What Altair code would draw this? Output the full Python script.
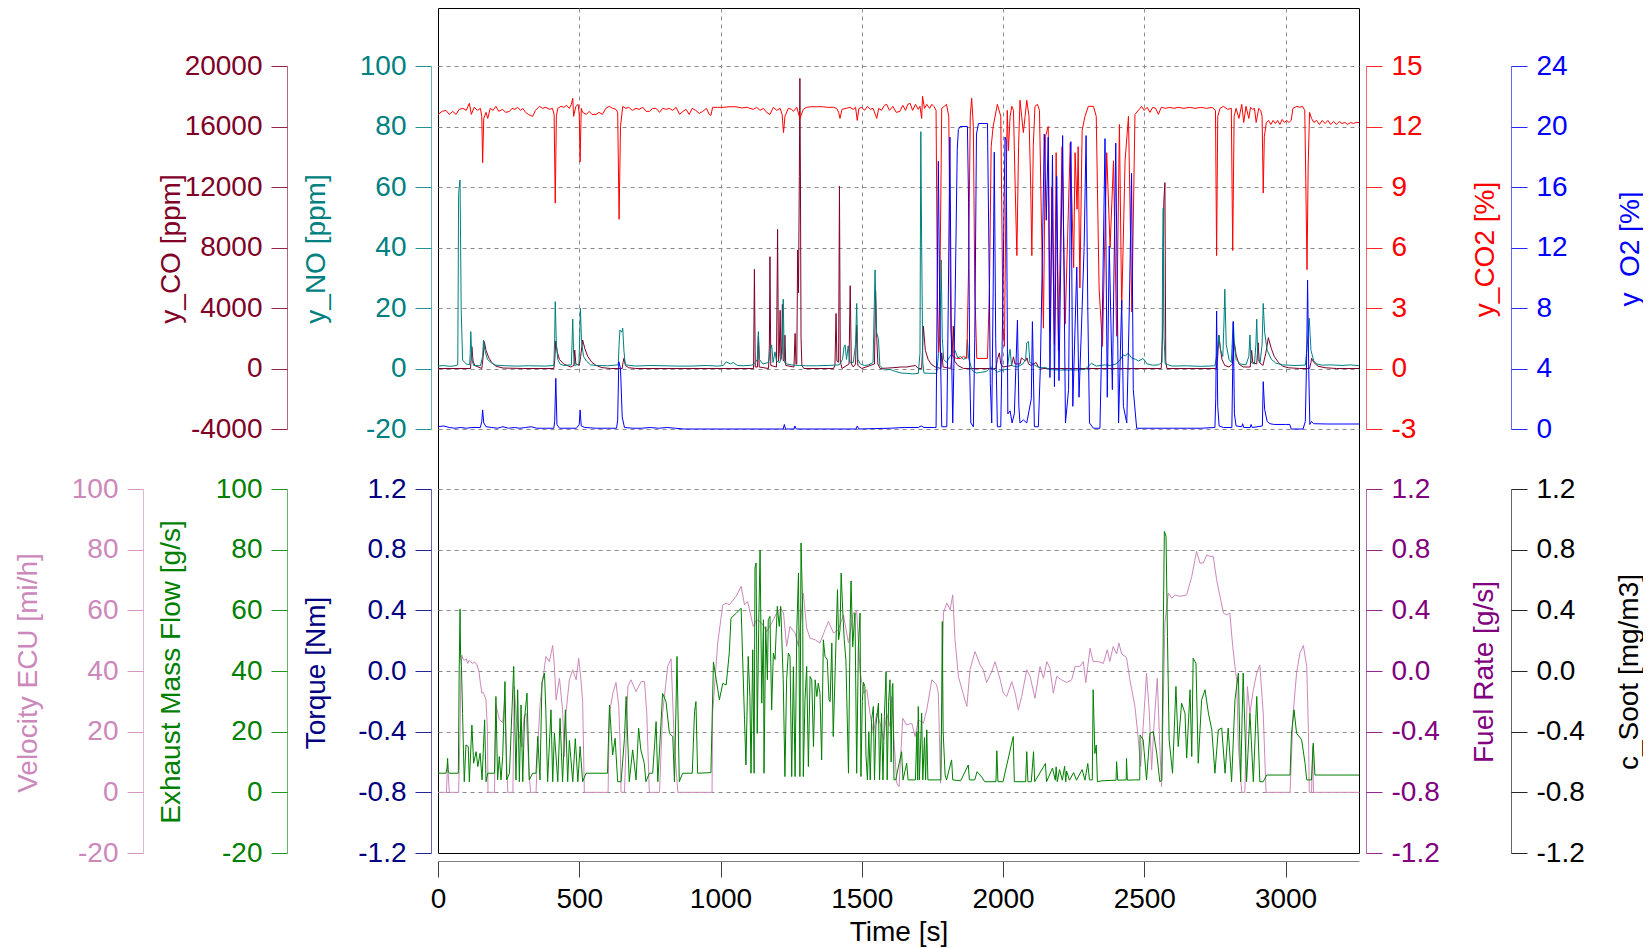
import altair as alt
import pandas as pd

FONT = "Liberation Sans"
GRID_C = "#8c8c8c"

# ---------------- data (time [s], value) ----------------
CO = [(0,0),(115,0),(117,500),(120,1444),(124,500),(130,200),(155,0),(160,800),(164,1775),(170,1200),(180,700),(190,400),(205,150),(230,30),(300,0),(410,0),(413,500),(417,1818),(422,1100),(430,600),(445,300),(470,100),(481,200),(484,1223),(488,300),(500,200),(505,800),(512,1884),(520,1300),(530,800),(545,400),(560,200),(580,60),(610,0),(652,0),(655,400),(658,672),(664,200),(675,50),(700,0),(1117,0),(1120,6555),(1123,100),(1131,100),(1134,2138),(1137,100),(1170,0),(1173,1500),(1175,7394),(1178,200),(1198,100),(1202,9200),(1205,500),(1208,1000),(1211,3850),(1214,600),(1217,1500),(1219,4240),(1222,500),(1226,600),(1228,2200),(1231,200),(1260,100),(1264,2320),(1267,300),(1270,300),(1273,7830),(1276,5000),(1279,12680),(1281,19180),(1283,12000),(1285,2000),(1288,200),(1295,0),(1400,0),(1405,200),(1409,3640),(1412,500),(1418,400),(1421,12060),(1424,500),(1430,0),(1455,300),(1459,5475),(1463,300),(1470,100),(1478,300),(1482,2865),(1486,200),(1500,0),(1545,300),(1549,5140),(1553,2000),(1557,300),(1565,0),(1610,50),(1640,100),(1660,100),(1690,200),(1700,0),(1712,0),(1715,1200),(1718,2800),(1725,1200),(1735,600),(1745,300),(1760,100),(1780,0),(1783,1036),(1788,100),(1815,0),(1820,1000),(1824,2800),(1828,500),(1840,200),(1860,0),(1975,0),(1980,600),(1987,1036),(1992,300),(2000,100),(2030,200),(2037,770),(2042,300),(2060,300),(2065,700),(2072,600),(2080,500),(2085,700),(2090,300),(2100,200),(2117,400),(2125,100),(2140,0),(2560,0),(2566,3000),(2569,11000),(2573,12290),(2576,500),(2580,0),(2755,0),(2760,800),(2764,2200),(2768,1500),(2775,600),(2785,200),(2800,100),(2812,300),(2819,1700),(2825,900),(2835,300),(2850,100),(2875,100),(2880,1200),(2884,400),(2898,300),(2903,1700),(2907,400),(2920,200),(2930,1000),(2939,2040),(2950,1300),(2960,800),(2975,400),(2990,150),(3010,50),(3050,0),(3085,0),(3090,400),(3092,670),(3100,400),(3115,150),(3140,50),(3180,0),(3260,0)]

NO = [(0,0.8),(20,1.0),(40,0.7),(60,0.9),(70,1.2),(73,57.9),(78,62.3),(82,20),(87,2.8),(100,1.5),(112,1.2),(114,5),(116,12.2),(120,3),(126,1.0),(150,0.9),(158,4),(161,9.4),(166,6),(175,3),(190,1.8),(205,1.1),(240,0.9),(280,0.8),(320,0.9),(380,0.8),(410,1.0),(413,10),(415,22.1),(419,8),(424,3),(432,1.5),(445,1.0),(472,1.2),(475,10),(477,16.3),(480,5),(484,1.0),(499,1.5),(502,12),(504,19.9),(508,9),(515,4),(525,2.5),(540,1.2),(560,1.0),(600,0.9),(638,1.2),(641,8),(644,12.7),(650,12),(654,13.3),(658,6),(663,1.2),(700,0.8),(750,1.0),(800,0.9),(850,0.8),(900,0.8),(950,1.0),(990,0.8),(1010,1.0),(1020,2.2),(1035,1.5),(1045,2.0),(1060,1.0),(1080,0.9),(1110,1.1),(1120,1.5),(1130,3),(1134,12.2),(1138,3),(1150,1.5),(1170,2),(1176,6),(1181,7.8),(1186,2),(1193,5.5),(1198,2.5),(1210,2.0),(1218,5),(1222,22.9),(1226,2),(1235,1.5),(1250,1.2),(1280,1.0),(1300,0.9),(1340,0.9),(1380,1.0),(1420,1.2),(1432,3),(1437,7),(1441,7.8),(1446,3),(1452,7.5),(1458,2),(1470,2),(1478,8),(1482,21.5),(1486,3),(1495,1.5),(1510,1.0),(1525,1.2),(1540,2),(1547,32.6),(1552,12),(1559,9.7),(1564,1.0),(1580,-0.5),(1600,-0.3),(1620,-1.0),(1640,-1.5),(1660,-1.6),(1680,-1.8),(1700,-1.6),(1706,5),(1709,78.3),(1712,40),(1716,2),(1720,-1.5),(1740,-1.6),(1765,-1.6),(1772,5),(1777,12),(1781,35.9),(1785,10),(1790,3),(1800,2),(1812,4),(1820,5),(1830,6),(1840,3.5),(1850,4),(1860,3.0),(1870,3.5),(1874,9.6),(1878,3.5),(1890,-0.5),(1905,-1.5),(1920,-1.3),(1940,-1.0),(1960,0.5),(1980,-1.2),(2000,-0.5),(2015,-0.2),(2022,5),(2025,6.3),(2030,1),(2050,0.5),(2070,1.5),(2080,3),(2084,8.5),(2090,8.9),(2095,2),(2110,1.2),(2130,0.2),(2150,0.3),(2170,-0.4),(2200,-0.5),(2250,-0.5),(2290,-0.3),(2313,1.7),(2330,0.8),(2360,1.2),(2380,1.0),(2400,1.5),(2414,2.8),(2425,4.5),(2433,4.2),(2443,5),(2455,3.5),(2470,3.0),(2480,2.5),(2496,3.3),(2510,1.5),(2530,1.1),(2550,1.2),(2563,2),(2565,40),(2567,53),(2570,10),(2574,1.5),(2600,0.8),(2650,0.9),(2700,0.7),(2750,0.9),(2758,5),(2764,11),(2770,6),(2778,4),(2782,15),(2785,26.2),(2790,8),(2800,3),(2808,2),(2812,10),(2815,15.5),(2819,8),(2825,3),(2840,1.5),(2860,1.2),(2870,4),(2874,11.1),(2878,2),(2890,1.5),(2895,8),(2898,16.3),(2902,3),(2910,2),(2917,8),(2921,21.5),(2926,12),(2935,6),(2950,3),(2965,1.8),(2990,1.2),(3030,1.0),(3070,1.1),(3077,8),(3084,16.6),(3090,6),(3100,2.5),(3110,1.5),(3130,1.1),(3160,1.2),(3200,1.0),(3230,1.2),(3260,0.9)]

CO2 = [(0,12.6),(15,12.75),(28,12.8),(40,12.6),(52,12.75),(64,12.6),(75,12.85),(88,12.9),(100,12.8),(111,13.15),(118,12.6),(128,12.95),(140,12.8),(150,12.9),(155,12.5),(158,10.2),(162,12.4),(170,12.7),(176,12.4),(185,12.9),(195,12.8),(205,13.0),(215,12.75),(228,12.85),(240,12.7),(253,12.75),(262,12.9),(272,12.85),(282,12.95),(292,12.8),(300,12.9),(310,12.7),(320,12.6),(335,12.5),(345,12.8),(359,13.0),(370,12.9),(382,12.95),(395,12.85),(405,12.9),(411,12.6),(415,8.2),(419,12.5),(424,12.9),(435,13.0),(445,12.95),(455,13.05),(465,12.9),(472,13.1),(477,13.4),(480,12.5),(488,13.0),(496,13.1),(500,12.6),(503,10.25),(507,12.9),(512,12.7),(525,12.6),(535,12.75),(545,12.6),(559,12.6),(570,12.7),(582,12.6),(594,12.9),(606,13.0),(618,12.9),(630,12.85),(636,12.7),(641,7.4),(646,12.0),(654,13.0),(665,12.9),(675,12.95),(688,12.8),(701,12.9),(712,12.85),(725,12.95),(737,12.75),(748,12.75),(760,12.9),(772,12.9),(784,12.7),(795,12.9),(808,12.85),(819,12.9),(830,12.8),(843,12.95),(855,12.6),(867,12.75),(878,12.85),(889,12.6),(900,12.9),(912,12.8),(925,12.65),(937,12.75),(950,12.9),(960,12.6),(966,12.55),(972,12.95),(990,12.95),(1010,12.95),(1030,12.98),(1055,12.98),(1075,12.92),(1095,12.95),(1104,12.9),(1116,12.85),(1128,12.95),(1140,12.8),(1152,12.9),(1163,12.7),(1175,12.6),(1187,12.95),(1199,12.8),(1211,12.9),(1218,12.6),(1223,11.7),(1228,12.5),(1240,12.9),(1252,12.85),(1258,12.75),(1270,12.95),(1281,12.4),(1293,12.85),(1305,12.95),(1320,12.98),(1340,12.98),(1360,12.98),(1380,12.95),(1400,12.95),(1411,12.9),(1418,12.7),(1423,12.4),(1430,12.85),(1445,12.9),(1458,12.95),(1470,12.85),(1478,12.95),(1484,12.3),(1490,12.9),(1500,12.95),(1510,12.8),(1520,13.0),(1530,12.85),(1540,12.9),(1553,12.4),(1560,12.9),(1570,12.8),(1580,13.05),(1588,13.1),(1598,12.8),(1610,13.0),(1622,12.7),(1635,12.75),(1645,13.05),(1655,12.8),(1663,13.1),(1671,13.15),(1680,12.8),(1690,13.1),(1700,12.85),(1706,13.0),(1712,12.4),(1715,13.5),(1722,12.9),(1730,13.1),(1740,12.9),(1748,13.1),(1755,13.0),
       (1763,12.8),(1768,3),(1772,0.8),(1778,6),(1783,12.9),(1792,13.0),(1800,13.1),(1808,12.5),(1815,2),(1822,0.6),(1835,0.5),(1850,0.5),(1860,0.6),(1872,0.5),(1878,5),(1884,12.5),(1889,13.4),(1895,12.0),(1900,4),(1907,0.5),(1945,0.5),(1952,4),(1958,11),(1965,12.0),(1980,13.1),(1992,12.5),(2000,2),(2005,1.1),(2010,8),(2015,12.8),(2019,10.8),(2025,12.5),(2031,13.0),(2037,12.8),(2043,9),(2049,5.6),(2055,11),(2060,13.3),(2066,12.5),(2072,11.7),(2078,12.5),(2084,13.3),(2092,12.5),(2098,9),(2102,5.6),(2107,11),(2113,13.0),(2122,13.1),(2129,12.8),(2135,8),(2143,2.0),(2150,11.5),(2160,12.0),(2167,1.8),(2173,9),(2182,1.2),(2188,10.7),(2196,0.9),(2209,11.0),(2220,2.2),(2238,11.2),(2250,5),(2255,10.7),(2262,7.9),(2266,11),(2272,4.0),(2280,11.8),(2290,12.5),(2302,13.0),(2320,13.0),(2330,12.5),(2340,4),(2352,1.1),(2367,10.7),(2379,6.0),(2391,10.3),(2402,1.6),(2412,12.1),(2420,2.9),(2432,10.3),(2444,12.5),(2456,2.8),(2467,12.6),(2485,12.9),
       (2490,13.0),(2500,12.8),(2510,12.95),(2520,12.7),(2530,12.95),(2540,12.9),(2550,12.6),(2560,12.95),(2575,12.9),(2590,12.95),(2605,12.9),(2620,12.95),(2640,12.9),(2660,12.95),(2680,12.9),(2700,12.95),(2720,12.9),(2740,12.95),(2752,12.8),(2756,5.6),(2760,12.5),(2768,12.9),(2780,13.0),(2795,12.85),(2808,12.9),(2813,5.85),(2818,12.5),(2825,12.9),(2835,12.4),(2845,13.1),(2852,12.2),(2860,13.0),(2870,12.4),(2876,12.95),(2883,12.85),(2890,12.9),(2896,12.2),(2905,12.9),(2912,12.8),(2917,12.5),(2921,8.7),(2925,11.5),(2932,12.2),(2940,12.3),(2948,12.1),(2956,12.3),(2964,12.15),(2972,12.3),(2980,12.1),(2988,12.35),(2996,12.2),(3004,12.3),(3012,12.2),(3020,12.3),(3026,12.9),(3040,13.0),(3050,12.95),(3060,13.0),(3068,12.8),(3072,9),(3076,4.9),(3080,10),(3085,12.7),(3092,12.4),(3100,12.2),(3110,12.3),(3120,12.1),(3130,12.3),(3140,12.15),(3150,12.3),(3160,12.1),(3170,12.25),(3180,12.1),(3190,12.25),(3200,12.15),(3210,12.2),(3220,12.1),(3230,12.2),(3240,12.15),(3250,12.2),(3260,12.2)]

O2 = [(0,0.15),(20,0.2),(40,0.1),(60,0.05),(80,0.1),(100,0.05),(120,0.1),(150,0.1),(155,0.5),(158,1.26),(162,0.4),(170,0.15),(190,0.1),(210,0.05),(230,0.15),(250,0.05),(270,0.1),(290,0.05),(310,0.1),(330,0.15),(350,0.05),(380,0.05),(410,0.05),(413,0.5),(417,3.35),(421,0.3),(430,0.05),(460,0.05),(490,0.05),(500,0.3),(503,1.26),(507,0.2),(520,0.1),(560,0.05),(600,0.05),(632,0.05),(636,0.6),(640,4.45),(646,4.0),(652,0.8),(660,0.1),(690,0.05),(720,0.05),(750,0.1),(780,0.05),(810,0.1),(840,0.05),(870,0.0),(1000,0.0),(1222,0.0),(1226,0.3),(1230,0.0),(1260,0.0),(1263,0.2),(1268,0.0),(1480,0.0),(1484,0.2),(1490,0.0),(1550,0.03),(1600,0.05),(1650,0.1),(1700,0.1),(1710,0.2),(1720,0.1),(1758,0.1),
      (1763,0.1),(1767,9),(1771,17.7),(1776,8),(1783,0.15),(1801,0.15),(1806,8),(1812,19.3),(1817,6),(1822,0.4),(1830,8),(1838,18.5),(1842,19.8),(1848,20.0),(1874,20.0),(1878,15),(1882,4),(1886,0.4),(1895,0.15),(1900,6),(1906,19.5),(1913,20.2),(1945,20.2),(1950,12),(1955,3),(1960,0.4),(1965,9),(1969,18.3),(1974,6),(1980,0.15),(1992,0.15),(1999,8),(2007,19.3),(2011,19.1),(2017,1.0),(2025,1.2),(2032,0.4),(2040,1.0),(2051,7.2),(2056,1.5),(2060,0.4),(2072,0.6),(2084,0.4),(2100,2),(2104,7.1),(2111,0.15),(2125,0.15),(2132,4),(2138,10),(2146,19.5),(2153,13.8),(2160,19.3),(2166,3.4),(2175,18.1),(2182,2.8),(2190,16.7),(2198,3.2),(2211,19.4),(2221,0.4),(2232,2.6),(2240,19.0),(2247,1.5),(2261,10.7),(2269,2.1),(2280,8),(2287,12),(2294,19.4),(2300,8),(2306,0.4),(2320,0.05),(2343,0.05),(2352,8),(2361,19.2),(2369,2.1),(2376,12.1),(2387,2.6),(2399,18.9),(2409,0.4),(2420,8.5),(2426,1.5),(2438,0.4),(2447,8),(2455,16.9),(2461,2.6),(2473,0.05),
      (2520,0.05),(2560,0.05),(2600,0.05),(2650,0.05),(2700,0.05),(2750,0.1),(2753,2),(2756,7.8),(2760,1.5),(2765,0.2),(2780,0.1),(2810,0.1),(2813,4),(2815,7.1),(2819,1),(2825,0.2),(2845,0.15),(2848,0.35),(2852,0.1),(2875,0.1),(2878,0.3),(2882,0.1),(2918,0.2),(2921,3.13),(2926,1.3),(2935,0.5),(2945,0.35),(2960,0.3),(3000,0.3),(3015,0.3),(3020,0.0),(3062,0.0),(3070,0.5),(3075,5),(3078,9.85),(3082,4),(3086,0.3),(3092,0.5),(3100,0.35),(3150,0.33),(3200,0.33),(3260,0.33)]

VELOCITY = [(0,0),(30,0),(32,5),(34,9.6),(37,5),(40,0),(73,0),(78,20),(81,39.3),(84,45.3),(88,44),(93,43.5),(100,44),(105,42.5),(110,43.5),(116,43),(123,42.5),(130,43),(138,42),(145,40),(150,36),(155,32.7),(160,33),(170,30.5),(175,20),(177,0),(200,0),(205,29),(217,24),(229,23),(236,30),(243,10),(247,0),(265,0),(270,34.9),(277,25),(285,20),(297,15),(305,25),(312,26.1),(318,15),(323,5),(328,0),(347,0),(353,15.1),(362,30),(371,37.1),(382,44.8),(394,43.1),(406,48.4),(412,41.5),(418,30.5),(430,37.6),(441,27.2),(447,11.8),(453,26.1),(465,37.1),(477,40.4),(489,37.1),(498,44.2),(506,37.1),(512,30),(518,0),(602,0),(607,26.1),(619,32.7),(630,36.2),(640,28.3),(645,15),(648,0),(660,0),(672,34.9),(683,37.1),(701,33.2),(719,36.5),(731,36.5),(739,26.1),(748,0),(784,0),(795,26.1),(813,41.5),(825,44),(837,15.1),(849,0),(970,0),(972,26.1),(990,49.2),(1008,61.8),(1020,62.4),(1031,61.8),(1055,64.6),(1073,67.9),(1085,61.8),(1096,62.9),(1104,59.5),(1116,54.7),(1128,57),(1146,55.8),(1163,53),(1181,55.8),(1199,59.1),(1213,60.7),(1223,59.1),(1234,48.1),(1246,54.7),(1264,52.5),(1276,48.1),(1293,65.7),(1305,54.2),(1317,50.8),(1335,50.3),(1352,49.2),(1370,53.6),(1382,56.3),(1400,52.5),(1417,53.6),(1435,58.5),(1453,49.2),(1470,59.1),(1482,59.6),(1494,40),(1506,32.7),(1518,33.8),(1529,26.1),(1541,19.5),(1553,26.1),(1565,22.8),(1577,17.3),(1588,26.1),(1600,21.7),(1606,31.6),(1614,17.3),(1624,3),(1632,1.9),(1645,24.4),(1659,22.2),(1677,22.8),(1689,18.4),(1700,23.9),(1718,22.8),(1730,27.2),(1748,37.1),(1765,35.4),(1771,32.7),(1779,3),(1789,59.1),(1801,62.4),(1813,60.2),(1822,65.1),(1830,50.3),(1842,38.2),(1860,32.1),(1872,28.3),(1883,40.4),(1901,46.4),(1919,42),(1930,40.4),(1942,36.2),(1960,39.8),(1972,43.1),(1990,37.1),(2001,32.7),(2013,31.6),(2031,36.5),(2043,32.7),(2054,27.2),(2066,31.6),(2084,40.4),(2096,38.2),(2113,31),(2131,41.5),(2143,37.6),(2155,43.1),(2166,40.9),(2178,32.7),(2190,38.2),(2207,37.1),(2225,36.2),(2243,37.1),(2255,41.5),(2272,41.5),(2284,43.1),(2293,36.2),(2308,47.5),(2319,43.1),(2337,43.1),(2355,42.5),(2369,47),(2378,43.1),(2390,48.1),(2402,45.6),(2410,49.2),(2420,45.6),(2437,44.5),(2449,37.1),(2467,28.3),(2479,17.3),(2487,8.5),(2496,21.7),(2508,39.3),(2518,26.1),(2526,7.4),(2534,21.7),(2546,37.6),(2555,15.1),(2561,1.9),(2573,55.8),(2585,65.7),(2597,64),(2609,65.1),(2626,64.6),(2650,65.1),(2668,71.2),(2685,79.4),(2697,75.6),(2709,75.6),(2721,78.3),(2732,77.8),(2744,77.8),(2756,70.1),(2768,64.6),(2780,59.1),(2791,58.5),(2803,59.1),(2813,48.1),(2821,41.5),(2827,37.1),(2833,15.1),(2845,0),(2856,0),(2865,34.9),(2874,26.1),(2886,33.8),(2898,39.3),(2909,42),(2921,26.1),(2931,0),(3016,0),(3027,26.1),(3039,39.3),(3051,45.9),(3063,48.4),(3075,41.5),(3081,20),(3084,0),(3092,0),(3096,15.1),(3099,0),(3260,0)]

EXHAUST = [(0,6.3),(28,6.3),(32,8),(34,11.2),(36,7),(40,6.3),(72,6.3),(75,40),(78,60.4),(80,45),(83,41.5),(87,26),(90,14),(93,3.5),(99,15.6),(107,15.1),(111,3.5),(120,22.2),(126,9.6),(135,13.4),(141,8.5),(149,12.9),(156,4.1),(165,23.9),(170,3.5),(176,6.3),(200,6.3),(205,31.6),(211,4.1),(217,11.8),(223,4.1),(229,11.8),(237,36.5),(243,4.1),(253,6.3),(268,41.5),(276,4.1),(282,33.8),(288,3.5),(294,28.8),(300,3.5),(306,23.9),(315,32.7),(323,4.1),(335,6.3),(347,6.3),(353,18.4),(361,4.1),(368,36.3),(377,39.3),(382,26.1),(388,3.5),(400,27.2),(406,3.5),(412,19.5),(424,3.5),(432,24.4),(441,3.5),(451,27.2),(459,3.5),(465,17.1),(477,3.5),(486,17.7),(495,3.5),(503,15.1),(512,3.5),(524,6.3),(600,6.3),(607,28.8),(618,12.3),(627,17.8),(636,3.5),(648,3.5),(660,17.8),(666,31.6),(677,3.5),(689,14),(701,4.1),(710,21.2),(718,14),(730,9.6),(736,3.5),(748,6.3),(760,6.3),(772,23.3),(778,3.5),(795,32.6),(807,29.9),(819,19.5),(831,18.4),(837,3.5),(846,44.8),(854,3.5),(866,6.3),(900,6.3),(908,26.6),(913,29.9),(919,6.3),(966,6.5),(975,43),(985,37.1),(996,30.5),(1008,35.9),(1020,35.4),(1031,45.9),(1037,57.4),(1055,59.0),(1073,60.7),(1085,23.9),(1090,9),(1098,44.8),(1104,31.6),(1108,6.3),(1114,47.0),(1119,6.3),(1122,73.9),(1126,75.6),(1130,19.4),(1136,59.1),(1140,79.8),(1146,29.4),(1152,56.9),(1154,6.3),(1160,54.6),(1166,37.1),(1169,56.9),(1175,58),(1181,27.2),(1187,45.9),(1193,43.8),(1201,61.3),(1208,54.7),(1213,61.3),(1222,37.1),(1228,5.2),(1234,37.1),(1240,45.9),(1246,44.8),(1252,5.2),(1258,41.4),(1264,5.2),(1270,53.6),(1276,72.3),(1281,5.2),(1285,82.2),(1291,59.1),(1293,5.2),(1299,30.5),(1305,41.5),(1311,8.5),(1317,38.2),(1323,37.1),(1329,15.1),(1335,37.1),(1341,31.6),(1346,36),(1352,32.7),(1358,10.7),(1364,50.3),(1370,44.8),(1378,43.7),(1384,30.5),(1388,29.9),(1394,49.2),(1399,18.4),(1407,43.7),(1414,66.8),(1418,50.3),(1423,53.6),(1427,72.3),(1433,59.1),(1438,50.3),(1444,43.3),(1453,6.3),(1459,56.9),(1462,69.7),(1468,48),(1474,56.9),(1476,59.1),(1482,6.3),(1488,48),(1494,59.1),(1497,5.2),(1502,30),(1506,36.3),(1511,34.9),(1515,12),(1520,4.1),(1525,20),(1530,4.1),(1535,24),(1541,28.3),(1545,4.1),(1550,22),(1559,29.4),(1563,4.1),(1570,26),(1575,4.1),(1580,25),(1586,39.8),(1590,4.1),(1595,30),(1600,37.1),(1604,10),(1608,35),(1610,35.9),(1614,4.1),(1620,4.1),(1641,13.4),(1646,4.1),(1659,9.6),(1664,4.1),(1690,4.1),(1695,20),(1698,4.1),(1700,28.3),(1704,4.1),(1712,26.1),(1716,4.1),(1722,18),(1726,4.1),(1730,20.6),(1734,4.1),(1780,4.1),(1783,30),(1785,56.3),(1788,20),(1795,5.7),(1800,4.1),(1818,10.7),(1822,4.1),(1850,3.8),(1877,9),(1881,4.1),(1900,4.1),(1908,6.8),(1925,5),(1935,3.5),(1975,3.5),(1978,13.7),(1982,3.5),(2000,3.5),(2036,18.4),(2040,3.5),(2080,3.5),(2084,13.4),(2088,3.5),(2100,3.5),(2108,13.4),(2112,3.5),(2150,9.5),(2154,3.5),(2175,8),(2185,4),(2188,8.4),(2192,3.5),(2200,7.5),(2210,4),(2218,8.6),(2222,3.5),(2225,7),(2235,4),(2250,6.5),(2260,4),(2280,7.5),(2290,4),(2300,9.5),(2306,4.1),(2316,4.1),(2319,33.8),(2325,12.8),(2330,15.6),(2334,3.5),(2350,3.8),(2400,4.0),(2402,10.1),(2406,4),(2436,4.1),(2437,11.2),(2440,4),(2465,4.1),(2484,4.1),(2485,18.9),(2496,17.3),(2508,4.1),(2520,19.5),(2532,20),(2544,12.9),(2555,3.5),(2562,4),(2568,60),(2571,86),(2577,84.4),(2582,51.4),(2588,17.3),(2600,6.3),(2612,34.9),(2620,15.1),(2632,29.4),(2644,26.1),(2650,11.3),(2662,33.8),(2668,11.8),(2673,44.2),(2683,42.5),(2691,9.6),(2703,30.5),(2715,33.8),(2727,26.1),(2739,20.6),(2750,6.3),(2762,20.6),(2774,21.2),(2786,6.3),(2797,21.2),(2809,3.5),(2821,30.5),(2833,39.3),(2841,3.5),(2850,39.3),(2862,3.5),(2874,26.1),(2886,3.5),(2898,31.6),(2909,3.5),(2921,3.5),(2933,5.7),(3016,5.7),(3021,19.5),(3030,27.2),(3039,19.5),(3057,17.3),(3069,9.6),(3075,4.1),(3092,4.1),(3098,16.2),(3104,5.7),(3260,5.7)]

X_TICKS = [0, 500, 1000, 1500, 2000, 2500, 3000]
CO_TICKS = [-4000, 0, 4000, 8000, 12000, 16000, 20000]
NO_TICKS = [-20, 0, 20, 40, 60, 80, 100]
CO2_TICKS = [-3, 0, 3, 6, 9, 12, 15]
O2_TICKS = [0, 4, 8, 12, 16, 20, 24]
PCT_TICKS = [-20, 0, 20, 40, 60, 80, 100]
DEC_TICKS = [-1.2, -0.8, -0.4, 0.0, 0.4, 0.8, 1.2]

# ---------------- layout ----------------
W, H = 921, 845
TOP = [421, 58]
BOT = [845, 481]
MINUS = "replace(datum.label, '\u2212', '-')"

XSCALE = alt.Scale(domain=[0, 3260], nice=False, zero=False)
XAXIS = alt.Axis(
    title="Time [s]", orient="bottom", offset=8, values=X_TICKS, format="d",
    grid=True, gridColor=GRID_C, gridDash=[4, 4], gridWidth=1,
    gridOpacity={"condition": {"test": "datum.value == 0", "value": 0}, "value": 1},
    domainColor="#808080", tickColor="#404040", tickSize=16, tickWidth=1,
    labelColor="black", labelFont=FONT, labelFontSize=28, labelPadding=8,
    labelFlush=False, labelOverlap=False,
    titleColor="black", titleFont=FONT, titleFontSize=28, titleFontWeight="normal",
    titleX=W / 2, titleY=79, titleAlign="center", titleBaseline="alphabetic",
)


def yaxis(title, color, orient, offset, values, tx, ty, fmt="d", grid=False, grid_skip=None):
    kw = {}
    if grid and grid_skip is not None:
        kw["gridOpacity"] = {"condition": {"test": grid_skip, "value": 0}, "value": 1}
    return alt.Axis(
        title=title, orient=orient, offset=offset, values=values, format=fmt,
        labelExpr=MINUS,
        grid=grid, gridColor=GRID_C, gridDash=[4, 4], gridWidth=1,
        domainColor=color, domainOpacity=0.6, domainWidth=1,
        tickColor=color, tickOpacity=0.85, tickSize=16, tickWidth=1,
        labelColor=color, labelFont=FONT, labelFontSize=28, labelPadding=9,
        labelFlush=False, labelOverlap=False,
        titleColor=color, titleFont=FONT, titleFontSize=28, titleFontWeight="normal",
        titleAngle=270, titleAlign="center", titleBaseline="middle",
        titleX=tx, titleY=ty, **kw,
    )


def yscale(domain, rng):
    return alt.Scale(domain=domain, range=rng, nice=False, zero=False)


def line_layer(pairs, color, domain, rng, axis):
    df = pd.DataFrame(pairs, columns=["t", "v"]).sort_values("t")
    return alt.Chart(df).mark_line(color=color, strokeWidth=1, clip=True).encode(
        x=alt.X("t:Q", scale=XSCALE, axis=XAXIS),
        y=alt.Y("v:Q", scale=yscale(domain, rng), axis=axis),
    )


def axis_layer(domain, rng, axis):
    df = pd.DataFrame({"t": [0], "v": [0.0]})
    return alt.Chart(df).mark_point(opacity=0, size=1).encode(
        x=alt.X("t:Q", scale=XSCALE, axis=XAXIS),
        y=alt.Y("v:Q", scale=yscale(domain, rng), axis=axis),
    )


CO_C, NO_C, CO2_C, O2_C = "#800028", "#008080", "#ff0000", "#0000ff"
VEL_C, EXH_C, TRQ_C, FUEL_C, SOOT_C = "#cc88bb", "#008000", "#000080", "#800080", "#000000"

layers = [
    axis_layer([-1.2, 1.2], BOT, yaxis("Torque [Nm]", TRQ_C, "left", 7, DEC_TICKS, -114.5, 664.5, ".1f", grid=True, grid_skip="datum.value < -1.1")),
    axis_layer([-1.2, 1.2], BOT, yaxis("Fuel Rate [g/s]", FUEL_C, "right", 7, DEC_TICKS, 118, 663.5, ".1f")),
    axis_layer([-1.2, 1.2], BOT, yaxis("c_Soot [mg/m3]", SOOT_C, "right", 152, DEC_TICKS, 118, 663.5, ".1f")),
    line_layer(VELOCITY, VEL_C, [-20, 100], BOT, yaxis("Velocity ECU [mi/h]", VEL_C, "left", 295, PCT_TICKS, -115, 664.5)),
    line_layer(EXHAUST, EXH_C, [-20, 100], BOT, yaxis("Exhaust Mass Flow [g/s]", EXH_C, "left", 151, PCT_TICKS, -115.5, 663.5)),
    line_layer(CO, CO_C, [-4000, 20000], TOP, yaxis("y_CO [ppm]", CO_C, "left", 151, CO_TICKS, -115.5, 240.5)),
    line_layer(NO, NO_C, [-20, 100], TOP, yaxis("y_NO [ppm]", NO_C, "left", 7, NO_TICKS, -114.5, 240.5, grid=True)),
    line_layer(CO2, CO2_C, [-3, 15], TOP, yaxis("y_CO2 [%]", CO2_C, "right", 7, CO2_TICKS, 119, 241)),
    line_layer(O2, O2_C, [0, 24], TOP, yaxis("y_O2 [%]", O2_C, "right", 152, O2_TICKS, 119, 240.5)),
]

chart = (
    alt.layer(*layers)
    .resolve_scale(y="independent")
    .resolve_axis(y="independent")
    .properties(
        width=W, height=H,
        autosize=alt.AutoSizeParams(type="none"),
        padding={"left": 430, "top": 0, "right": 284, "bottom": 95},
        background="white",
    )
    .configure_view(stroke="black", strokeWidth=1)
)

chart.save("out.html", embed_options={"renderer": "svg", "actions": False})
